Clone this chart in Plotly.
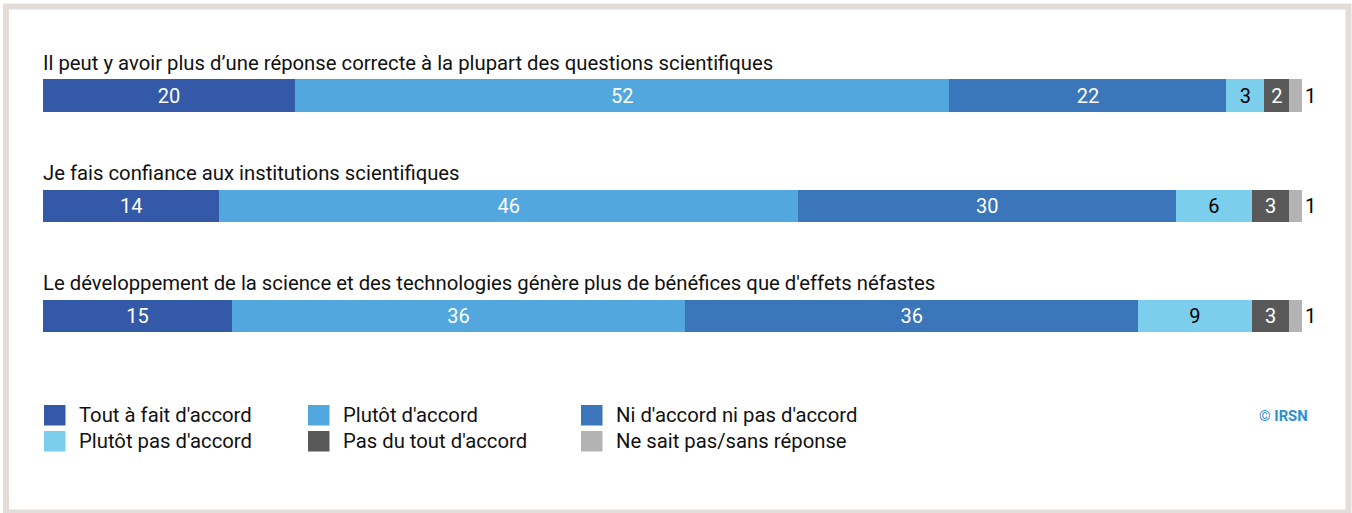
import plotly.graph_objects as go

categories = [
    "Il peut y avoir plus d\u2019une réponse correcte à la plupart des questions scientifiques",
    "Je fais confiance aux institutions scientifiques",
    "Le développement de la science et des technologies génère plus de bénéfices que d'effets néfastes",
]
series_names = [
    "Tout à fait d'accord",
    "Plutôt d'accord",
    "Ni d'accord ni pas d'accord",
    "Plutôt pas d'accord",
    "Pas du tout d'accord",
    "Ne sait pas/sans réponse",
]
tout_a_fait = [20, 14, 15]
plutot = [52, 46, 36]
ni_ni = [22, 30, 36]
plutot_pas = [3, 6, 9]
pas_du_tout = [2, 3, 3]
ne_sait_pas = [1, 1, 1]
series_values = [tout_a_fait, plutot, ni_ni, plutot_pas, pas_du_tout, ne_sait_pas]

colors = ["#3359a8", "#52a8de", "#3b76bb", "#7ccfec", "#595959", "#b3b3b3"]
text_colors = ["white", "white", "white", "black", "white", "black"]
show_inside = [True, True, True, True, True, False]

W, H = 1352, 513
FONT = "Roboto"

# pixel geometry
x0_px, x100_px = 43, 1302
ppu = (x100_px - x0_px) / 100.0
bar0_px, bar_step = 95.5, 110.3
bar_h = 32.5

def px2x(px):
    return (px - x0_px) / ppu

def py2y(py):
    return (py - bar0_px) / bar_step

def ppx(px):
    return px / W

def ppy(py):
    return 1 - py / H

ypos = list(range(len(categories)))

fig = go.Figure()
for name, vals, col, tc, inside in zip(series_names, series_values, colors, text_colors, show_inside):
    fig.add_trace(go.Bar(
        y=ypos, x=vals, orientation="h", name=name,
        marker=dict(color=col, line=dict(width=0)),
        width=bar_h / bar_step,
        text=[str(v) for v in vals] if inside else None,
        textposition="inside" if inside else "none",
        insidetextanchor="middle",
        textangle=0,
        textfont=dict(family=FONT, size=20, color=tc),
        hoverinfo="skip",
        showlegend=False,
    ))

annotations = []
totals = [sum(s[i] for s in series_values) for i in range(len(categories))]
for i in ypos:
    annotations.append(dict(
        x=totals[i], y=i, xref="x", yref="y", text=str(ne_sait_pas[i]),
        showarrow=False, xanchor="left", xshift=1,
        font=dict(family=FONT, size=20, color="black"),
    ))
    annotations.append(dict(
        x=0, y=i, xref="x", yref="y", text=categories[i],
        showarrow=False, xanchor="left", yanchor="middle", yshift=33, xshift=-2,
        font=dict(family=FONT, size=20.3, color="#111111"),
    ))

shapes = []
shapes.append(dict(type="rect", xref="paper", yref="paper",
                   x0=ppx(6), x1=ppx(1348.5), y0=ppy(6.5), y1=ppy(512.5),
                   line=dict(color="#e2ddd9", width=6), fillcolor="rgba(0,0,0,0)", layer="below"))

leg_cols = [44, 308, 581]
leg_rows = [405, 431]
sq = 21.5
for k, (name, col) in enumerate(zip(series_names, colors)):
    r, c = divmod(k, 3)
    lx, ly = leg_cols[c], leg_rows[r]
    shapes.append(dict(type="rect", xref="paper", yref="paper",
                       x0=ppx(lx), x1=ppx(lx + sq), y0=ppy(ly + sq - 1), y1=ppy(ly),
                       line=dict(width=0), fillcolor=col))
    annotations.append(dict(
        x=ppx(lx + 33), y=ppy(ly + sq / 2 - 0.5), xref="paper", yref="paper", text=name,
        showarrow=False, xanchor="left", yanchor="middle",
        font=dict(family=FONT, size=20.3, color="#111111"),
    ))

annotations.append(dict(
    x=ppx(1310), y=ppy(416), xref="paper", yref="paper", text="<b>© IRSN</b>",
    showarrow=False, xanchor="right", yanchor="middle",
    font=dict(family=FONT, size=14.8, color="#2e8fd3"),
))

fig.update_layout(
    width=W, height=H,
    margin=dict(l=0, r=0, t=0, b=0),
    paper_bgcolor="white", plot_bgcolor="white",
    barmode="stack", bargap=0,
    xaxis=dict(range=[px2x(0), px2x(W)], visible=False, fixedrange=True),
    yaxis=dict(range=[py2y(H), py2y(0)], visible=False, fixedrange=True),
    shapes=shapes, annotations=annotations,
    showlegend=False,
    hovermode=False,
)

fig.write_html(
    "out.html",
    config={"displayModeBar": False, "staticPlot": True},
    post_script="document.body.style.margin='0px';document.body.style.overflow='hidden';",
)
